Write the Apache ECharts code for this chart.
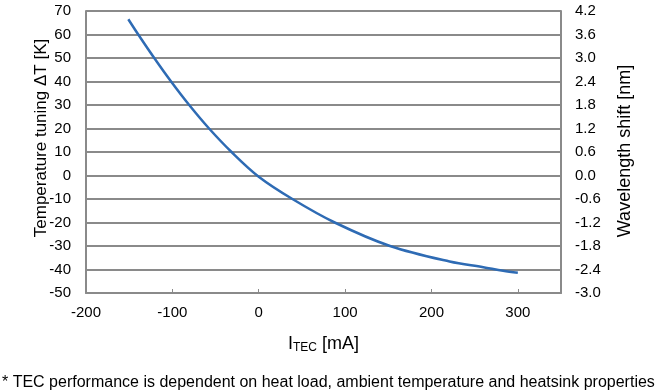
<!DOCTYPE html>
<html><head><meta charset="utf-8">
<script src="https://cdn.jsdelivr.net/npm/echarts@6/dist/echarts.min.js"></script>
<style>html,body{margin:0;padding:0;background:#fff}#c{width:666px;height:391px}</style>
</head><body><div id="c"></div>
<script>
const currentMA = [-151, -139.5, -121, -101.5, -80.5, -57.5, -31.5, 0, 39, 88, 152, 221, 260, 283, 300];
const deltaT = [66.5, 60, 50, 40, 30, 20, 10, -0.5, -10, -20, -30, -36.6, -39.0, -40.5, -41.4];
const xTicks = [-200, -100, 0, 100, 200, 300];
const leftTicks = [70, -50, 10];   // max, min, step
const rightTicks = [4.2, -3.0, 0.6];
const leftTitle = 'Temperature tuning ΔT [K]';
const rightTitle = 'Wavelength shift [nm]';
const footnote = '* TEC performance is dependent on heat load, ambient temperature and heatsink properties';

const FONT = 'Liberation Sans, Arial, sans-serif';
const GRID = '#8a8a8a';
const chart = echarts.init(document.getElementById('c'), null, {renderer: 'canvas'});
chart.setOption({
  animation: false,
  backgroundColor: '#fff',
  grid: {left: 86, right: 105, top: 11, bottom: 98, containLabel: false},
  xAxis: {
    type: 'value', min: xTicks[0], max: 350, interval: 100,
    axisLine: {show: true, onZero: false, lineStyle: {color: GRID, width: 2}},
    axisTick: {show: true, inside: true, length: 4, lineStyle: {color: GRID, width: 1}},
    splitLine: {show: false},
    axisLabel: {color: '#000', fontSize: 15, fontFamily: FONT, margin: 12, showMaxLabel: false,
      formatter: v => xTicks.includes(v) ? String(v) : ''},
    name: '{a|I}{s|TEC}{a| [mA]}', nameLocation: 'middle', nameGap: 42,
    nameTextStyle: {rich: {a: {fontSize: 18, fontFamily: FONT, color: '#000'},
                           s: {fontSize: 12, fontFamily: FONT, color: '#000', verticalAlign: 'bottom', padding: [7, 0, 0, 0]}}}
  },
  yAxis: [{
    type: 'value', min: leftTicks[1], max: leftTicks[0], interval: leftTicks[2], position: 'left',
    axisLine: {show: true, onZero: false, lineStyle: {color: GRID, width: 2}},
    axisTick: {show: false},
    splitLine: {show: true, lineStyle: {color: GRID, width: 2}},
    axisLabel: {color: '#000', fontSize: 15, fontFamily: FONT, margin: 15}
  }, {
    type: 'value', min: rightTicks[1], max: rightTicks[0], interval: rightTicks[2], position: 'right',
    axisLine: {show: true, onZero: false, lineStyle: {color: GRID, width: 2}},
    axisTick: {show: false},
    splitLine: {show: false},
    axisLabel: {color: '#000', fontSize: 15, fontFamily: FONT, margin: 14,
      formatter: v => (Math.abs(v) < 1e-9 ? 0 : v).toFixed(1)}
  }],
  graphic: [
    {type: 'text', x: 41, y: 138, rotation: Math.PI / 2,
     style: {text: leftTitle, font: '17px ' + FONT, fill: '#000', align: 'center', verticalAlign: 'middle'}},
    {type: 'text', x: 625, y: 151, rotation: Math.PI / 2,
     style: {text: rightTitle, font: '18px ' + FONT, fill: '#000', align: 'center', verticalAlign: 'middle'}},
    {type: 'text', x: 2, y: 383,
     style: {text: footnote, font: '16px ' + FONT, fill: '#000', align: 'left', verticalAlign: 'middle'}}
  ],
  series: [{
    type: 'line', yAxisIndex: 0, smooth: 0.35, showSymbol: false,
    lineStyle: {color: '#2e6bb4', width: 2.5},
    data: currentMA.map((x, i) => [x, deltaT[i]])
  }]
});
</script></body></html>
